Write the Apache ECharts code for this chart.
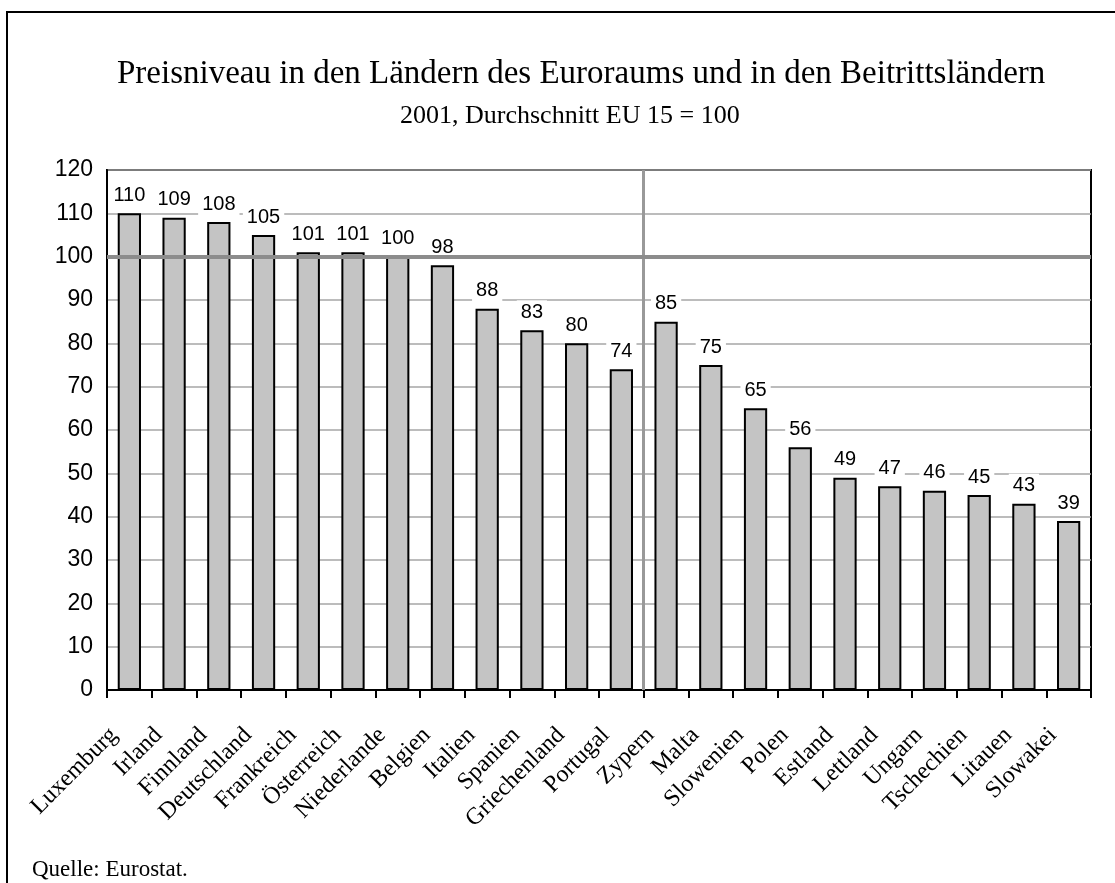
<!DOCTYPE html>
<html>
<head>
<meta charset="utf-8">
<script src="https://cdn.jsdelivr.net/npm/echarts@6/dist/echarts.min.js"></script>
<style>
  html, body { margin: 0; padding: 0; background: #fff; }
  #main { width: 1115px; height: 883px; }
</style>
</head>
<body>
<div id="main"></div>
<script>
const countries = ['Luxemburg', 'Irland', 'Finnland', 'Deutschland', 'Frankreich', 'Österreich',
  'Niederlande', 'Belgien', 'Italien', 'Spanien', 'Griechenland', 'Portugal',
  'Zypern', 'Malta', 'Slowenien', 'Polen', 'Estland', 'Lettland', 'Ungarn',
  'Tschechien', 'Litauen', 'Slowakei'];
const priceLevel = [110, 109, 108, 105, 101, 101, 100, 98, 88, 83, 80, 74,
  85, 75, 65, 56, 49, 47, 46, 45, 43, 39];
const euroAreaCount = 12; // divider between Euroraum and Beitrittsländer
const yTicks = { min: 0, max: 120, interval: 10 };

const serif = '"Liberation Serif", "DejaVu Serif", serif';
const sans = '"Liberation Sans", Arial, sans-serif';

const chart = echarts.init(document.getElementById('main'));

const option = {
  backgroundColor: '#fff',
  animation: false,
  title: [{
    text: 'Preisniveau in den Ländern des Euroraums und in den Beitrittsländern',
    left: 112, top: 53,
    textStyle: { fontFamily: serif, fontSize: 33, fontWeight: 'normal', color: '#000' }
  }, {
    text: '2001, Durchschnitt EU 15 = 100',
    left: 395, top: 98,
    textStyle: { fontFamily: serif, fontSize: 26, fontWeight: 'normal', color: '#000' }
  }, {
    text: 'Quelle: Eurostat.',
    left: 27, top: 853,
    textStyle: { fontFamily: serif, fontSize: 23, fontWeight: 'normal', color: '#000' }
  }],
  graphic: [{
    type: 'polyline',
    shape: { points: [[7, 883], [7, 12], [1115, 12]] },
    style: { stroke: '#000', lineWidth: 2, fill: null }
  }],
  grid: {
    left: 107, right: 24, top: 170, bottom: 193,
    show: true, borderColor: '#000', borderWidth: 2, backgroundColor: 'transparent'
  },
  xAxis: [{
    type: 'category',
    data: countries,
    axisLine: { lineStyle: { color: '#000', width: 2 } },
    axisTick: { show: true, length: 8, lineStyle: { color: '#000', width: 2 } },
    axisLabel: {
      rotate: 45, interval: 0, margin: 26, padding: [0, 22, 0, 0],
      fontFamily: serif, fontSize: 24, color: '#000'
    }
  }, {
    // helper axis in category-boundary units, used only for the divider line
    type: 'value', min: 0, max: countries.length, show: false
  }],
  yAxis: {
    type: 'value',
    min: yTicks.min, max: yTicks.max, interval: yTicks.interval,
    axisLine: { show: true, lineStyle: { color: '#000', width: 2 } },
    axisTick: { show: false },
    axisLabel: { fontFamily: sans, fontSize: 23, color: '#000', margin: 14 },
    splitLine: { lineStyle: { color: '#a6a6a6', width: 1.5 } }
  },
  series: [{
    type: 'bar',
    data: priceLevel,
    barWidth: '52%',
    itemStyle: { color: '#c4c4c4', borderColor: '#000', borderWidth: 2 },
    label: {
      show: true, position: 'top', distance: 6,
      fontFamily: sans, fontSize: 20, color: '#000',
      backgroundColor: '#fff', padding: [2, 4]
    },
    markLine: {
      silent: true, symbol: 'none',
      label: { show: false },
      lineStyle: { color: '#8c8c8c', width: 4, type: 'solid' },
      data: [{ yAxis: 100 }]
    }
  }, {
    type: 'line',
    xAxisIndex: 1,
    data: [],
    markLine: {
      silent: true, symbol: 'none', z: 1,
      label: { show: false },
      lineStyle: { color: '#999', width: 3, type: 'solid' },
      data: [{ xAxis: euroAreaCount }]
    }
  }]
};

chart.setOption(option);
</script>
</body>
</html>
